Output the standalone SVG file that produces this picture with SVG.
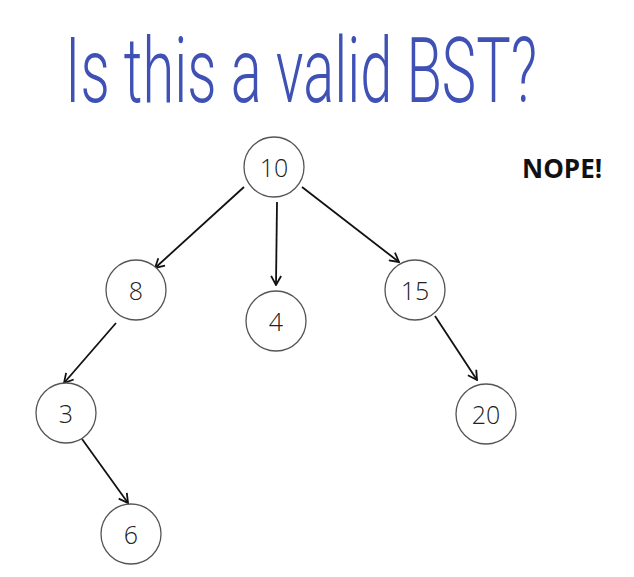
<svg xmlns="http://www.w3.org/2000/svg" width="634" height="577" viewBox="0 0 634 577">
<defs>
<style>
.node circle{fill:#fff;stroke:#555;stroke-width:1.3}
.node text{font-family:"Open Sans","Noto Sans",sans-serif;font-weight:300;font-size:25px;fill:#222;text-anchor:middle}
.edge{stroke:#111;stroke-width:1.8;fill:none;marker-end:url(#arr)}
</style>
<marker id="arr" viewBox="0 0 12 12" refX="11" refY="6" markerWidth="12" markerHeight="12" markerUnits="userSpaceOnUse" orient="auto">
<path d="M2,1 L11,6 L2,11" fill="none" stroke="#111" stroke-width="1.8"/>
</marker>
</defs>
<rect width="634" height="577" fill="#fff"/>
<text id="title" x="65" y="102" textLength="472" lengthAdjust="spacingAndGlyphs" font-family="Roboto, Liberation Sans, sans-serif" font-weight="350" font-size="90" fill="#3f51b5">Is this a valid BST?</text>
<text id="nope" x="522" y="178" font-family="Open Sans, Noto Sans, sans-serif" font-weight="bold" font-size="26" fill="#111">NOPE!</text>
<g id="connectors">
<line class="edge" x1="244" y1="187" x2="155" y2="268"/>
<line class="edge" x1="277" y1="202" x2="276" y2="285"/>
<line class="edge" x1="302" y1="187" x2="399" y2="262"/>
<line class="edge" x1="116" y1="323" x2="64" y2="383"/>
<line class="edge" x1="82" y1="439" x2="128" y2="503"/>
<line class="edge" x1="435" y1="316" x2="477" y2="380"/>
</g>
<g id="n10" class="node"><circle cx="274" cy="167" r="30"/><text x="274" y="177">10</text></g>
<g id="n8" class="node"><circle cx="136" cy="290" r="30"/><text x="136" y="300">8</text></g>
<g id="n4" class="node"><circle cx="276" cy="321" r="30"/><text x="276" y="331">4</text></g>
<g id="n15" class="node"><circle cx="415" cy="290" r="30"/><text x="415" y="300">15</text></g>
<g id="n3" class="node"><circle cx="66" cy="413" r="30"/><text x="66" y="423">3</text></g>
<g id="n20" class="node"><circle cx="486" cy="414" r="30"/><text x="486" y="424">20</text></g>
<g id="n6" class="node"><circle cx="131" cy="534" r="30"/><text x="131" y="544">6</text></g>
</svg>
